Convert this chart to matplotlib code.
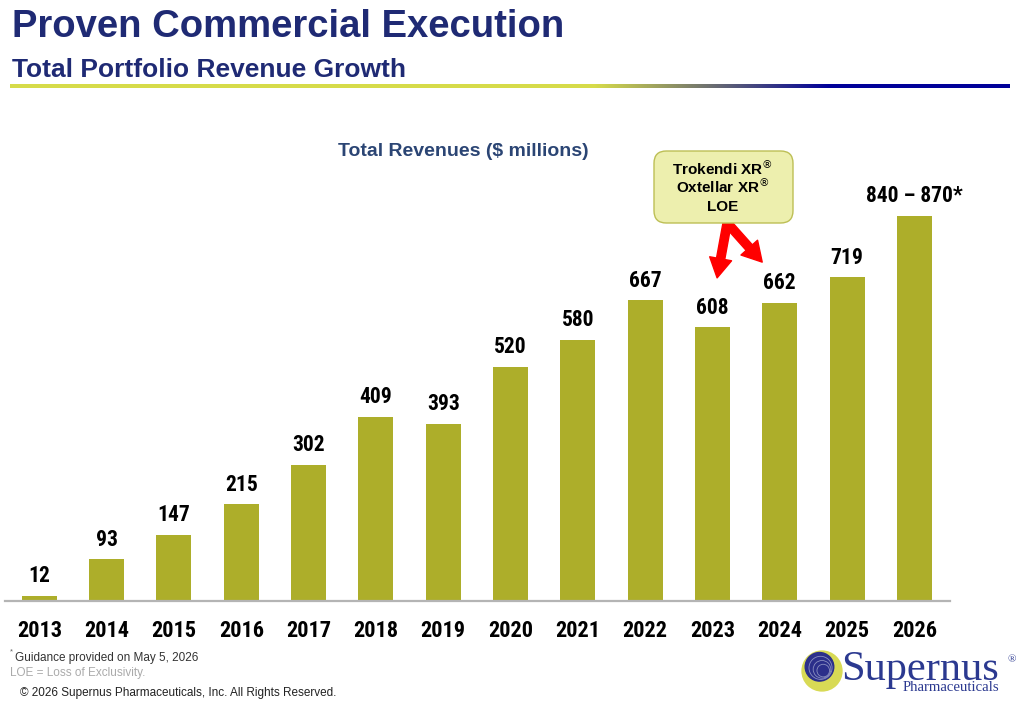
import matplotlib
matplotlib.use("Agg")
import matplotlib.pyplot as plt
import numpy as np
from matplotlib import font_manager
from matplotlib.patches import Circle, FancyBboxPatch

# ─── Datos ───────────────────────────────────────────────────────────────
YEARS = ["2013", "2014", "2015", "2016", "2017", "2018", "2019",
         "2020", "2021", "2022", "2023", "2024", "2025", "2026"]
REVENUE = [12, 93, 147, 215, 302, 409, 393, 520, 580, 667, 608, 662, 719, 855]
VALUE_LABELS = ["12", "93", "147", "215", "302", "409", "393",
                "520", "580", "667", "608", "662", "719", "840 – 870*"]

TITLE = "Proven Commercial Execution"
SUBTITLE = "Total Portfolio Revenue Growth"
CHART_TITLE = "Total Revenues ($ millions)"
CALLOUT = ["Trokendi XR$^{®}$", "Oxtellar XR$^{®}$", "LOE"]
FOOT_1 = "Guidance provided on May 5, 2026"
FOOT_2 = "LOE = Loss of Exclusivity."
COPYRIGHT = "© 2026 Supernus Pharmaceuticals, Inc. All Rights Reserved."

NAVY = "#1F2A74"
BAR = "#ADAE2A"

names = {f.name for f in font_manager.fontManager.ttflist}
NARROW, YEAR_SIZE, VALUE_SIZE = "Liberation Sans", 15, 14.5
for cand, ys, vs in [("Liberation Sans Narrow", 17, 16.5), ("Arial Narrow", 17, 16.5),
                     ("Roboto Condensed", 16, 15.5), ("Archivo Narrow", 16, 15.5),
                     ("Asap Condensed", 16, 15.5)]:
    if cand in names:
        NARROW, YEAR_SIZE, VALUE_SIZE = cand, ys, vs
        break
plt.rcParams["font.family"] = ["Liberation Sans", "DejaVu Sans"]

W, H = 1024, 704
fig = plt.figure(figsize=(W / 100, H / 100), dpi=100)


def fx(px):
    return px / W


def fy(py):
    return 1 - py / H


# ─── Encabezado ──────────────────────────────────────────────────────────
fig.text(fx(12), fy(37), TITLE, fontsize=27.5, fontweight="bold", color=NAVY, va="baseline")
fig.text(fx(12), fy(77), SUBTITLE, fontsize=19, fontweight="bold", color=NAVY, va="baseline")

grad = np.linspace(0, 1, 512)
yellow = np.array([0.84, 0.86, 0.29])
blue = np.array([0.0, 0.0, 0.60])
t = np.clip((grad - 0.585) / (0.82 - 0.585), 0, 1)
rgb = yellow[None, :] * (1 - t[:, None]) + blue[None, :] * t[:, None]
ax_line = fig.add_axes([fx(10), fy(88), fx(1010) - fx(10), 4 / H])
ax_line.imshow(rgb[None, :, :], aspect="auto")
ax_line.axis("off")

# ─── Gráfico ─────────────────────────────────────────────────────────────
ax = fig.add_axes([fx(5), 103 / H, fx(950) - fx(5), 461 / H])
x = np.arange(len(YEARS))
ax.bar(x, REVENUE, width=0.52, color=BAR)
ax.set_xlim(-0.51, len(YEARS) - 1 + 0.53)
ax.set_ylim(0, 1023)
for s in ["top", "right", "left"]:
    ax.spines[s].set_visible(False)
ax.spines["bottom"].set_color("#B4B4B4")
ax.spines["bottom"].set_linewidth(1.6)
ax.set_yticks([])
ax.set_xticks(x)
ax.set_xticklabels(YEARS, fontsize=YEAR_SIZE, fontweight="bold", family=NARROW)
ax.tick_params(axis="x", length=0, pad=14)

for xi, v, lab in zip(x, REVENUE, VALUE_LABELS):
    ax.annotate(lab, (xi, v), xytext=(0, 14), textcoords="offset points",
                ha="center", va="center", fontsize=VALUE_SIZE, fontweight="bold", family=NARROW)

fig.text(fx(463), fy(151), CHART_TITLE, fontsize=14, fontweight="bold",
         color="#2B4574", ha="center", va="center")

# Recuadro LOE y flechas
box = FancyBboxPatch((fx(654), fy(223)), fx(139), 72 / H,
                     boxstyle="round,pad=0,rounding_size=0.012",
                     mutation_aspect=W / H, transform=fig.transFigure,
                     facecolor="#EDEFAE", edgecolor="#BDBF55", linewidth=1)
fig.add_artist(box)
for i, line in enumerate(CALLOUT):
    fig.text(fx(723), fy(175 + 18 * i), line, fontsize=11, fontweight="bold",
             ha="center", va="baseline")

start = (10.22, 839)
for tip in [(10.07, 717), (10.74, 752)]:
    ax.annotate("", xy=tip, xytext=start, annotation_clip=False,
                arrowprops=dict(arrowstyle="simple,head_length=1.4,head_width=1.6,tail_width=0.6",
                                color="#FF0000", mutation_scale=10, shrinkA=0, shrinkB=0))

# ─── Pie ─────────────────────────────────────────────────────────────────
fig.text(fx(10), fy(652), "*", fontsize=5.5, color="#666666", va="center")
fig.text(fx(15), fy(658), FOOT_1, fontsize=8.5, color="#333333", va="center")
fig.text(fx(10), fy(673), FOOT_2, fontsize=8.5, color="#AAAAAA", va="center")
fig.text(fx(20), fy(693), COPYRIGHT, fontsize=8.5, color="#222222", va="center")

# Logo
ax_logo = fig.add_axes([fx(801), fy(692), 42 / W, 42 / H])
ax_logo.set_xlim(-1, 1)
ax_logo.set_ylim(-1, 1)
ax_logo.set_aspect("equal")
ax_logo.axis("off")
ax_logo.add_patch(Circle((0, 0), 0.95, color="#D8DA55"))
ax_logo.add_patch(Circle((-0.12, 0.2), 0.68, color="#2B2F8A"))
for r, dx in [(0.55, 0.05), (0.42, 0.12), (0.3, 0.18)]:
    ax_logo.add_patch(Circle((-0.12 + dx, 0.2 - dx), r, fill=False, ec="#8A8FC0", lw=0.6))
fig.text(fx(841), fy(680), "Supernus", fontsize=30.5, family="Liberation Serif",
         color="#2B3990", va="baseline")
fig.text(fx(1008), fy(660), "®", fontsize=8, family="Liberation Serif", color="#2B3990", va="center")
fig.text(fx(903), fy(691), "Pharmaceuticals", fontsize=10.6, family="Liberation Serif",
         color="#2B3990", va="baseline")

fig.savefig("out.png", dpi=100)
